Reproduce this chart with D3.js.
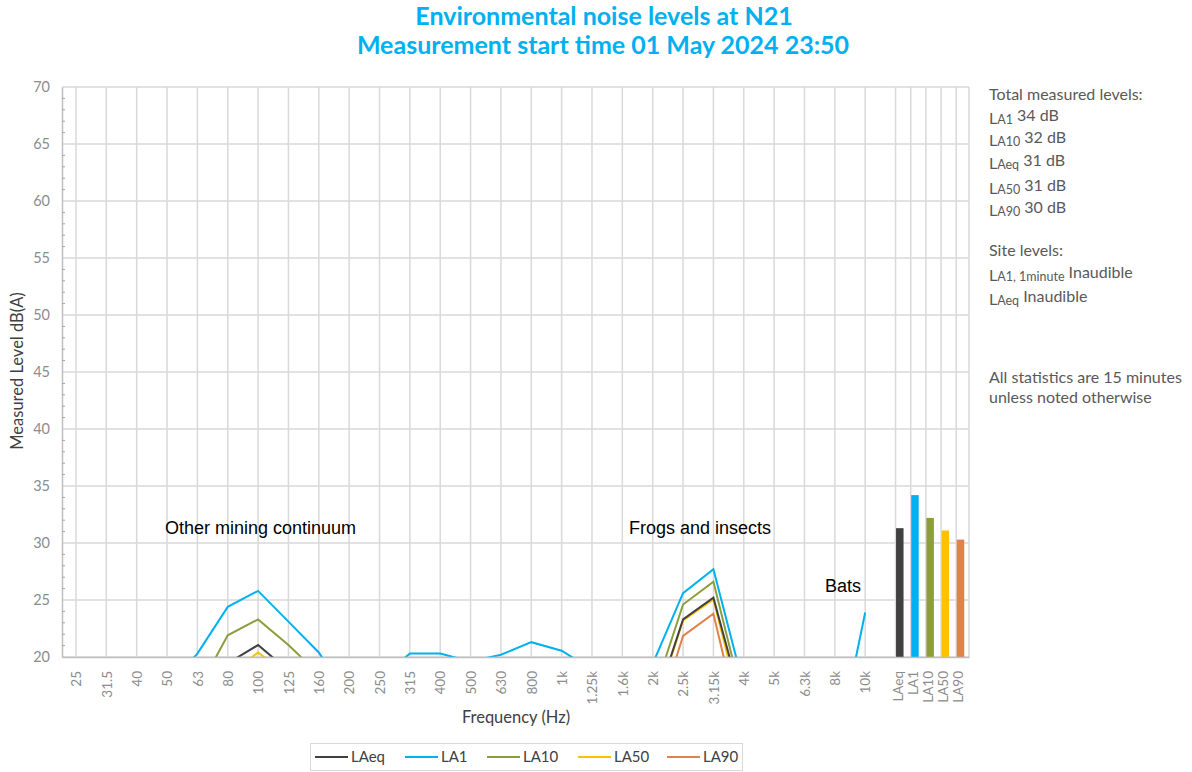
<!DOCTYPE html>
<html>
<head>
<meta charset="utf-8">
<script src="https://cdn.jsdelivr.net/npm/d3@7"></script>
<style>
  body { margin: 0; background: #fff; }
  svg { display: block; }
  text { font-family: Lato, "Open Sans", sans-serif; }
</style>
</head>
<body>
<div id="chart"></div>
<script>
// frequency bands (Hz) and the overall level bars
var freqLabels = ["25", "31.5", "40", "50", "63", "80", "100", "125", "160", "200", "250", "315", "400", "500", "630", "800", "1k", "1.25k", "1.6k", "2k", "2.5k", "3.15k", "4k", "5k", "6.3k", "8k", "10k"];
var barLabels = ["LAeq", "LA1", "LA10", "LA50", "LA90"];
var barValues = [31.3, 34.2, 32.2, 31.1, 30.3];

// spectra, dB(A) per band (anything under 20 is below the chart floor)
var laeq = [9, 8.5, 9, 11, 14, 19.45, 21.05, 18.8, 15, 11, 11.5, 14, 14.5, 13, 13.5, 15, 14, 12, 12, 15.2, 23.3, 25.2, 15.4, 10, 8.5, 8, 13];
var la1  = [14, 13, 13.5, 17.3, 20.3, 24.4, 25.8, 23.1, 20.4, 16.4, 18.1, 20.3, 20.3, 19.6, 20.2, 21.3, 20.55, 18.9, 18, 19.4, 25.6, 27.7, 17.4, 14, 12, 11, 23.9];
var la10 = [11, 10.5, 11, 13, 17.0, 21.9, 23.3, 21.05, 18.5, 14, 14.5, 17, 17.5, 16, 16.5, 18, 17, 15, 15, 16.5, 24.6, 26.6, 15.9, 12, 10, 9, 15];
var la50 = [8, 7.5, 8, 10, 13, 18.4, 20.4, 18.4, 14, 10, 10.5, 13, 13.5, 12, 12.5, 14, 13, 11, 11, 15.0, 23.2, 25.05, 14.5, 9, 8, 7.5, 11];
var la90 = [6, 5.5, 6, 8, 11, 16, 17.5, 16, 12, 8, 8.5, 11, 11.5, 10, 10.5, 12, 11, 9, 9, 13.4, 21.85, 23.8, 12.6, 7, 6, 5.5, 9];

var seriesNames = ["LAeq", "LA1", "LA10", "LA50", "LA90"];
var seriesValues = [laeq, la1, la10, la50, la90];
var seriesColors = ["#404040", "#00B0F0", "#8C9E3C", "#FFC000", "#E0814E"];

var yTicks = [20, 25, 30, 35, 40, 45, 50, 55, 60, 65, 70];

(function() {
  var width = 1192, height = 772;
  var plotLeft = 62, plotRight = 969, plotTop = 87, plotBottom = 657;

  var svg = d3.select("#chart").append("svg")
      .attr("width", width)
      .attr("height", height);

  // bands sit one step apart, the overall bars half a step apart after them
  function bandPos(i) { return i; }
  function barPos(j) { return freqLabels.length + j * 0.5; }

  var x = d3.scaleLinear()
      .domain([-0.46, barPos(barLabels.length - 1) + 0.42])
      .range([plotLeft, plotRight]);

  var y = d3.scaleLinear()
      .domain([20, 70])
      .range([plotBottom, plotTop]);

  var allPos = freqLabels.map(function(d, i) { return bandPos(i); })
      .concat(barLabels.map(function(d, j) { return barPos(j); }));
  var allLabels = freqLabels.concat(barLabels);

  // grid
  svg.append("g").selectAll("line")
      .data(yTicks)
      .enter().append("line")
      .attr("x1", plotLeft).attr("x2", plotRight)
      .attr("y1", function(d) { return y(d); })
      .attr("y2", function(d) { return y(d); })
      .attr("stroke", "#d9d9d9")
      .attr("stroke-width", 1.5);

  svg.append("g").selectAll("line")
      .data(allPos)
      .enter().append("line")
      .attr("x1", function(d) { return x(d); })
      .attr("x2", function(d) { return x(d); })
      .attr("y1", plotTop).attr("y2", plotBottom)
      .attr("stroke", "#d9d9d9")
      .attr("stroke-width", 1.5);

  svg.append("line")
      .attr("x1", plotRight).attr("x2", plotRight)
      .attr("y1", plotTop).attr("y2", plotBottom)
      .attr("stroke", "#d9d9d9").attr("stroke-width", 1.5);

  // clip lines at the chart floor
  svg.append("clipPath").attr("id", "plotclip")
    .append("rect")
      .attr("x", plotLeft).attr("y", plotTop)
      .attr("width", plotRight - plotLeft).attr("height", plotBottom - plotTop);

  var line = d3.line()
      .x(function(d, i) { return x(bandPos(i)); })
      .y(function(d) { return y(d); });

  var lines = svg.append("g").attr("clip-path", "url(#plotclip)");
  // draw order: LA90, LA50, LAeq, LA10, LA1 on top
  [4, 3, 0, 2, 1].forEach(function(k) {
    lines.append("path")
        .datum(seriesValues[k])
        .attr("d", line)
        .attr("fill", "none")
        .attr("stroke", seriesColors[k])
        .attr("stroke-width", 2)
        .attr("stroke-linejoin", "miter");
  });

  // overall bars
  svg.append("g").selectAll("rect")
      .data(barValues)
      .enter().append("rect")
      .attr("x", function(d, j) { return x(barPos(j)) + 0.5; })
      .attr("y", function(d) { return y(d); })
      .attr("width", 7.5)
      .attr("height", function(d) { return y(20) - y(d); })
      .attr("fill", function(d, j) { return seriesColors[j]; });

  // axes
  var xAxis = d3.axisBottom(x)
      .tickValues(allPos)
      .tickFormat(function(d, i) { return allLabels[i]; })
      .tickSize(0);

  var gx = svg.append("g")
      .attr("transform", "translate(0," + plotBottom + ")")
      .call(xAxis);
  gx.select(".domain").attr("stroke", "#bfbfbf").attr("stroke-width", 1.5);
  gx.selectAll(".tick text")
      .attr("transform", function(d, i) {
        var shift = i >= freqLabels.length ? 2 : 0;
        return "translate(" + shift + ",14) rotate(-90)";
      })
      .attr("x", 0).attr("y", 0).attr("dy", "0.35em")
      .attr("text-anchor", "end")
      .attr("fill", "#8c8c8c")
      .style("font-size", "13.5px")
      .style("font-family", "Lato, sans-serif");

  var yAxis = d3.axisLeft(y)
      .tickValues(yTicks)
      .tickSize(0)
      .tickPadding(12);

  var gy = svg.append("g")
      .attr("transform", "translate(" + plotLeft + ",0)")
      .call(yAxis);
  gy.select(".domain").attr("stroke", "#bfbfbf").attr("stroke-width", 1.5);
  gy.selectAll(".tick text")
      .attr("fill", "#8c8c8c")
      .style("font-size", "14.5px")
      .style("font-family", "Lato, sans-serif");

  // minor ticks every 1 dB, inward
  var minor = d3.range(21, 70).filter(function(v) { return v % 5 !== 0; });
  svg.append("g").selectAll("line")
      .data(minor)
      .enter().append("line")
      .attr("x1", plotLeft).attr("x2", plotLeft + 3)
      .attr("y1", function(d) { return y(d); })
      .attr("y2", function(d) { return y(d); })
      .attr("stroke", "#a6a6a6")
      .attr("stroke-width", 1);

  // titles
  svg.append("text")
      .attr("x", 604).attr("y", 25)
      .attr("text-anchor", "middle")
      .attr("fill", "#00B0F0")
      .style("font-size", "25px").style("font-weight", "bold")
      .text("Environmental noise levels at N21");
  svg.append("text")
      .attr("x", 603).attr("y", 54)
      .attr("text-anchor", "middle")
      .attr("fill", "#00B0F0")
      .style("font-size", "25px").style("font-weight", "bold")
      .text("Measurement start time 01 May 2024 23:50");

  svg.append("text")
      .attr("transform", "translate(23,371) rotate(-90)")
      .attr("text-anchor", "middle")
      .attr("fill", "#404040")
      .style("font-size", "16.5px")
      .text("Measured Level dB(A)");

  svg.append("text")
      .attr("x", 516).attr("y", 723)
      .attr("text-anchor", "middle")
      .attr("fill", "#404040")
      .style("font-size", "16.5px")
      .text("Frequency (Hz)");

  // source annotations
  var notes = [
    {text: "Other mining continuum", x: 165, y: 534},
    {text: "Frogs and insects", x: 629, y: 534},
    {text: "Bats", x: 825, y: 592}
  ];
  svg.append("g").selectAll("text")
      .data(notes)
      .enter().append("text")
      .attr("x", function(d) { return d.x; })
      .attr("y", function(d) { return d.y; })
      .attr("fill", "#000")
      .style("font-family", "'Liberation Sans', Arial, sans-serif")
      .style("font-size", "18px")
      .text(function(d) { return d.text; });

  // right-hand summary
  var summary = [
    {sub: null, text: "Total measured levels:", y: 100},
    {sub: "A1", text: " 34 dB", y: 121},
    {sub: "A10", text: " 32 dB", y: 143},
    {sub: "Aeq", text: " 31 dB", y: 166},
    {sub: "A50", text: " 31 dB", y: 191},
    {sub: "A90", text: " 30 dB", y: 213},
    {sub: null, text: "Site levels:", y: 256},
    {sub: "A1, 1minute", text: " Inaudible", y: 278},
    {sub: "Aeq", text: " Inaudible", y: 302},
    {sub: null, text: "All statistics are 15 minutes", y: 383},
    {sub: null, text: "unless noted otherwise", y: 403}
  ];
  var sg = svg.append("g");
  summary.forEach(function(r) {
    var t = sg.append("text")
        .attr("x", 989).attr("y", r.y)
        .attr("fill", "#595959")
        .style("font-size", "16px");
    if (r.sub) {
      t.append("tspan").attr("dy", 3).text("L");
      t.append("tspan").style("font-size", "12.5px").text(r.sub);
      t.append("tspan").attr("dy", -3).text(r.text);
    } else {
      t.text(r.text);
    }
  });

  // legend
  svg.append("rect")
      .attr("x", 310.5).attr("y", 743.5)
      .attr("width", 432).attr("height", 27)
      .attr("fill", "#fff")
      .attr("stroke", "#d9d9d9");
  var legendX = [315, 405, 487, 578, 667];
  var lg = svg.append("g").selectAll("g")
      .data(seriesNames)
      .enter().append("g")
      .attr("transform", function(d, i) { return "translate(" + legendX[i] + ",757)"; });
  lg.append("line")
      .attr("x1", 0).attr("x2", 33)
      .attr("stroke", function(d, i) { return seriesColors[i]; })
      .attr("stroke-width", 2);
  lg.append("text")
      .attr("x", 36).attr("dy", "0.35em")
      .attr("fill", "#404040")
      .style("font-size", "15px")
      .text(function(d) { return d; });
})();
</script>
</body>
</html>
